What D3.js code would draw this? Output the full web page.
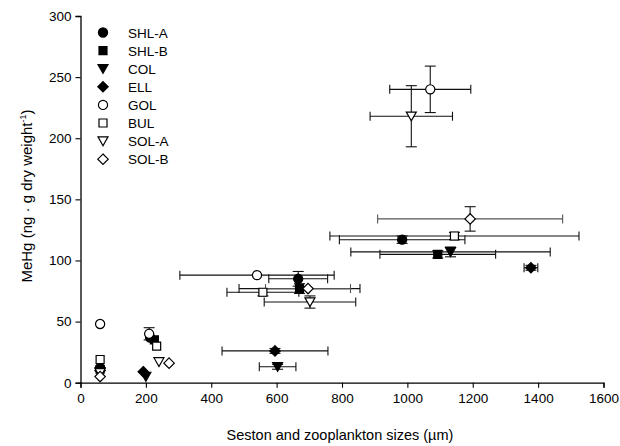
<!DOCTYPE html>
<html>
<head>
<meta charset="utf-8">
<script src="https://cdn.jsdelivr.net/npm/d3@7"></script>
<style>
  body { margin: 0; background: #fff; }
  text { font-family: "Liberation Sans", Arial, sans-serif; }
</style>
</head>
<body>
<script>
// lakes shown in the legend, in order
var lakes = ["SHL-A", "SHL-B", "COL", "ELL", "GOL", "BUL", "SOL-A", "SOL-B"];
var shapes = ["circle", "square", "tri", "diamond", "circle", "square", "tri", "diamond"];
var filled = [true, true, true, true, false, false, false, false];

// each point: [size um, MeHg, x error, y error]
var shlA = [[60, 12, 0, 0], [213, 37, 0, 0], [666, 85, 90, 6], [984, 117, 192, 3]];
var shlB = [[60, 11, 0, 0], [226, 35, 0, 0], [670, 77, 185, 4], [1093, 105, 177, 3]];
var col  = [[60, 9, 0, 0], [200, 5, 0, 0], [603, 13, 56, 2], [1132, 107, 305, 4]];
var ell  = [[60, 10, 0, 0], [192, 9, 0, 0], [595, 26, 162, 2], [1378, 94, 21, 2]];
var gol  = [[60, 48, 0, 0], [210, 40, 0, 5], [540, 88, 236, 0], [1070, 240, 124, 19]];
var bul  = [[60, 19, 0, 0], [233, 30, 0, 0], [558, 74, 110, 3], [1144, 120, 381, 3]];
var solA = [[60, 8, 0, 0], [240, 17, 0, 0], [702, 66, 140, 5], [1012, 218, 126, 25]];
var solB = [[60, 5, 0, 0], [271, 16, 0, 0], [696, 77, 130, 0], [1192, 134, 283, 10]];
var allSeries = [shlA, shlB, col, ell, gol, bul, solA, solB];

var xTicks = [0, 200, 400, 600, 800, 1000, 1200, 1400, 1600];
var yTicks = [0, 50, 100, 150, 200, 250, 300];

var width = 620, height = 446;

var svg = d3.select("body").append("svg")
    .attr("width", width)
    .attr("height", height);

var x = d3.scaleLinear()
    .domain([0, 1600])
    .range([80.5, 603.5]);

var y = d3.scaleLinear()
    .domain([0, 300])
    .range([382.7, 16]);

var xAxis = d3.axisBottom(x).tickValues(xTicks).tickSize(5).tickPadding(6).tickFormat(d3.format("d"));
var yAxis = d3.axisLeft(y).tickValues(yTicks).tickSize(5).tickPadding(4);

var gx = svg.append("g")
    .attr("transform", "translate(0," + y(0) + ")")
    .call(xAxis);
var gy = svg.append("g")
    .attr("transform", "translate(" + x(0) + ",0)")
    .call(yAxis);

[gx, gy].forEach(function(g) {
  g.select(".domain").attr("stroke", "#000").attr("stroke-width", 1.3);
  g.selectAll(".tick line").attr("stroke", "#000").attr("stroke-width", 1.1);
  g.selectAll(".tick text").attr("fill", "#000").style("font-size", "13.5px");
});

// axis titles
svg.append("text")
    .attr("x", 340)
    .attr("y", 440)
    .attr("text-anchor", "middle")
    .style("font-size", "14.5px")
    .text("Seston and zooplankton sizes (\u00b5m)");

var yt = svg.append("text")
    .attr("transform", "translate(32,196) rotate(-90)")
    .attr("text-anchor", "middle")
    .style("font-size", "15px");
yt.append("tspan").text("MeHg (ng \u00b7 g dry weight");
yt.append("tspan").attr("dy", -6).style("font-size", "9px").text("-1");
yt.append("tspan").attr("dy", 6).text(")");

function markerPath(shape) {
  if (shape == "circle") return d3.symbol().type(d3.symbolCircle).size(66)();
  if (shape == "square") return "M-4,-4H4V4H-4Z";
  if (shape == "tri") return "M-5,-4.2H5L0,4.6Z";
  return "M0,-5.2L5.2,0L0,5.2L-5.2,0Z";
}

var cap = 4.5;
var bars = svg.append("g").attr("stroke", "#111").attr("stroke-width", 1.1).attr("fill", "none");
allSeries.forEach(function(pts, i) {
  var c = (i == 7) ? "#555" : "#111";
  pts.forEach(function(d) {
    var px = x(d[0]), py = y(d[1]);
    if (d[2] > 0) {
      var x0 = x(d[0] - d[2]), x1 = x(d[0] + d[2]);
      bars.append("line").attr("x1", x0).attr("x2", x1).attr("y1", py).attr("y2", py).attr("stroke", c);
      bars.append("line").attr("x1", x0).attr("x2", x0).attr("y1", py - cap).attr("y2", py + cap).attr("stroke", c);
      bars.append("line").attr("x1", x1).attr("x2", x1).attr("y1", py - cap).attr("y2", py + cap).attr("stroke", c);
    }
    if (d[3] > 0) {
      var y0 = y(d[1] - d[3]), y1 = y(d[1] + d[3]);
      bars.append("line").attr("x1", px).attr("x2", px).attr("y1", y0).attr("y2", y1);
      bars.append("line").attr("x1", px - cap - 1).attr("x2", px + cap + 1).attr("y1", y0).attr("y2", y0);
      bars.append("line").attr("x1", px - cap - 1).attr("x2", px + cap + 1).attr("y1", y1).attr("y2", y1);
    }
  });
});

// markers
allSeries.forEach(function(pts, i) {
  svg.append("g").selectAll("path")
    .data(pts)
  .enter().append("path")
    .attr("d", markerPath(shapes[i]))
    .attr("transform", function(d) { return "translate(" + x(d[0]) + "," + y(d[1]) + ")"; })
    .attr("fill", filled[i] ? "#000" : "#fff")
    .attr("stroke", "#000")
    .attr("stroke-width", 1.2);
});

// legend
var legend = svg.append("g").selectAll("g")
    .data(lakes)
  .enter().append("g")
    .attr("transform", function(d, i) { return "translate(103," + (32.5 + i * 18.1) + ")"; });

legend.append("path")
    .attr("d", function(d, i) { return markerPath(shapes[i]); })
    .attr("fill", function(d, i) { return filled[i] ? "#000" : "#fff"; })
    .attr("stroke", "#000")
    .attr("stroke-width", 1.2);

legend.append("text")
    .attr("x", 25)
    .attr("y", 5)
    .style("font-size", "13.5px")
    .text(function(d) { return d; });
</script>
</body>
</html>
